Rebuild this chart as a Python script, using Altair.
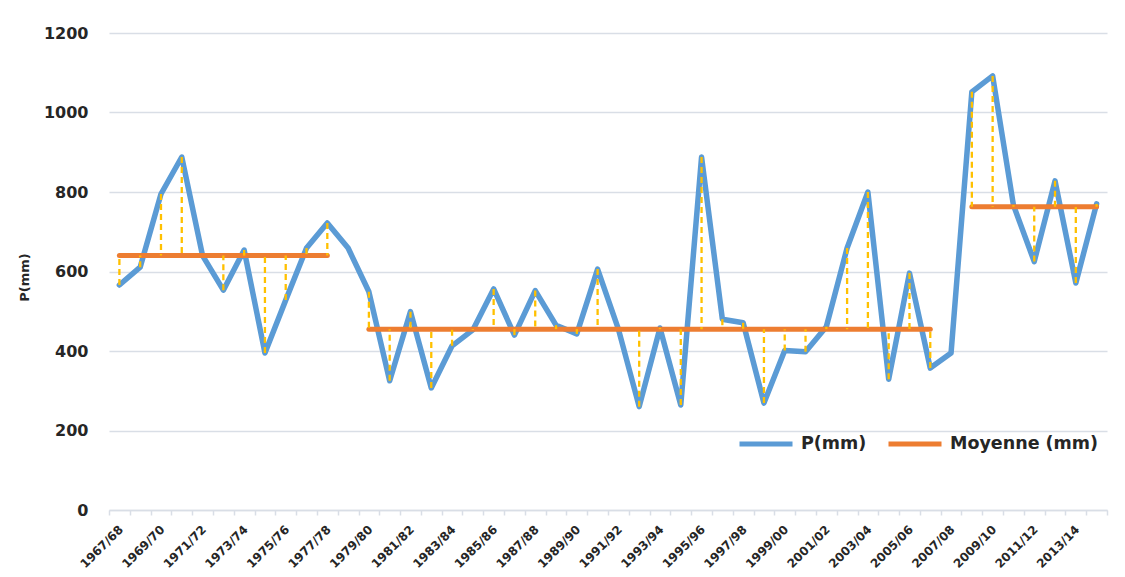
import altair as alt
import pandas as pd

years = ["1967/68", "1968/69", "1969/70", "1970/71", "1971/72", "1972/73", "1973/74", "1974/75",
         "1975/76", "1976/77", "1977/78", "1978/79", "1979/80", "1980/81", "1981/82", "1982/83",
         "1983/84", "1984/85", "1985/86", "1986/87", "1987/88", "1988/89", "1989/90", "1990/91",
         "1991/92", "1992/93", "1993/94", "1994/95", "1995/96", "1996/97", "1997/98", "1998/99",
         "1999/00", "2000/01", "2001/02", "2002/03", "2003/04", "2004/05", "2005/06", "2006/07",
         "2007/08", "2008/09", "2009/10", "2010/11", "2011/12", "2012/13", "2013/14", "2014/15"]

precip = [566, 611, 795, 888, 640, 553, 654, 395, 528, 659, 722, 659, 549, 325, 499, 307,
          413, 453, 556, 440, 552, 465, 443, 606, 455, 260, 458, 264, 888, 480, 471, 269,
          401, 398, 461, 659, 800, 329, 596, 357, 395, 1052, 1092, 767, 625, 828, 571, 770]

# period means: (first category, last category, mean value)
periods_start = ["1967/68", "1979/80", "2008/09"]
periods_end = ["1977/78", "2006/07", "2014/15"]
periods_mean = [640, 455, 763]

y_ticks = [0, 200, 400, 600, 800, 1000, 1200]

rows_p = []
rows_m = []
for i, (yr, p) in enumerate(zip(years, precip)):
    rows_p.append({"idx": i, "cat": yr, "val": p, "series": "P(mm)"})
    for k, (s, e, m) in enumerate(zip(periods_start, periods_end, periods_mean)):
        if years.index(s) <= i <= years.index(e):
            rows_m.append({"idx": i, "cat": yr, "val": m, "p": p, "seg": k, "series": "Moyenne (mm)"})
df_p = pd.DataFrame(rows_p)
df_m = pd.DataFrame(rows_m)

FONT = "DejaVu Sans"
TXT = "#262626"
GRID = "#D9DEE6"

n = len(years)
tick_vals = [k - 0.5 for k in range(n + 1)]
years_js = "[" + ",".join("'" + y + "'" for y in years) + "]"
label_expr = (
    "(datum.value + 0.5) % 2 == 0 && datum.value < " + str(n - 1) +
    " ? " + years_js + "[datum.value + 0.5] : ''"
)

x_enc = alt.X(
    "idx:Q",
    scale=alt.Scale(domain=[-0.5, n - 0.5], nice=False, zero=False),
    axis=alt.Axis(
        title=None, values=tick_vals, labelExpr=label_expr,
        labelAngle=-45, labelAlign="right", labelBaseline="middle",
        labelOffset=11.5, labelOverlap=False, labelFlush=False, labelBound=False,
        labelFont=FONT, labelFontWeight="bold", labelFontSize=12, labelColor=TXT,
        tickColor=GRID, tickWidth=1.5, tickSize=5,
        domainColor=GRID, domainWidth=1.5, labelPadding=12, grid=False,
    ),
)

color_scale = alt.Scale(domain=["P(mm)", "Moyenne (mm)"], range=["#5B9BD5", "#ED7D31"])
legend = alt.Legend(
    title=None, orient="none", legendX=628, legendY=382, direction="horizontal",
    symbolType="stroke", symbolSize=2809, symbolStrokeWidth=5,
    labelFont=FONT, labelFontWeight="bold", labelFontSize=17.5, labelColor=TXT,
    columnPadding=11, labelOffset=6, padding=0,
)

y_enc = alt.Y(
    "val:Q", scale=alt.Scale(domain=[0, 1200], nice=False),
    axis=alt.Axis(
        title="P(mm)", values=y_ticks, format="d",
        labelFont=FONT, labelFontWeight="bold", labelFontSize=16, labelColor=TXT,
        labelPadding=21, ticks=False, domain=False, gridColor=GRID, gridWidth=1.5,
        titleFont=FONT, titleFontWeight="bold", titleFontSize=13, titleColor=TXT,
        titleX=-78, titleY=244, titleAngle=-90,
    ),
)

line_p = alt.Chart(df_p).mark_line(strokeWidth=5.5, strokeJoin="round", strokeCap="round").encode(
    x=x_enc, y=y_enc,
    color=alt.Color("series:N", scale=color_scale, legend=legend),
)

line_m = alt.Chart(df_m).mark_line(strokeWidth=5, strokeCap="round").encode(
    x=x_enc, y=y_enc,
    color=alt.Color("series:N", scale=color_scale, legend=legend),
    detail="seg:N",
)

rules = alt.Chart(df_m).mark_rule(color="#FFC000", strokeWidth=2.3, strokeDash=[6, 4]).encode(
    x=x_enc, y="p:Q", y2="val:Q",
)

chart = alt.layer(line_p, line_m, rules).properties(
    width=998, height=477,
    autosize=alt.AutoSizeParams(type="none"),
    padding={"left": 101, "top": 25, "right": 10, "bottom": 66},
).configure(background="white").configure_view(stroke=None)

chart.save("out.html", embed_options={"renderer": "svg", "actions": False})
